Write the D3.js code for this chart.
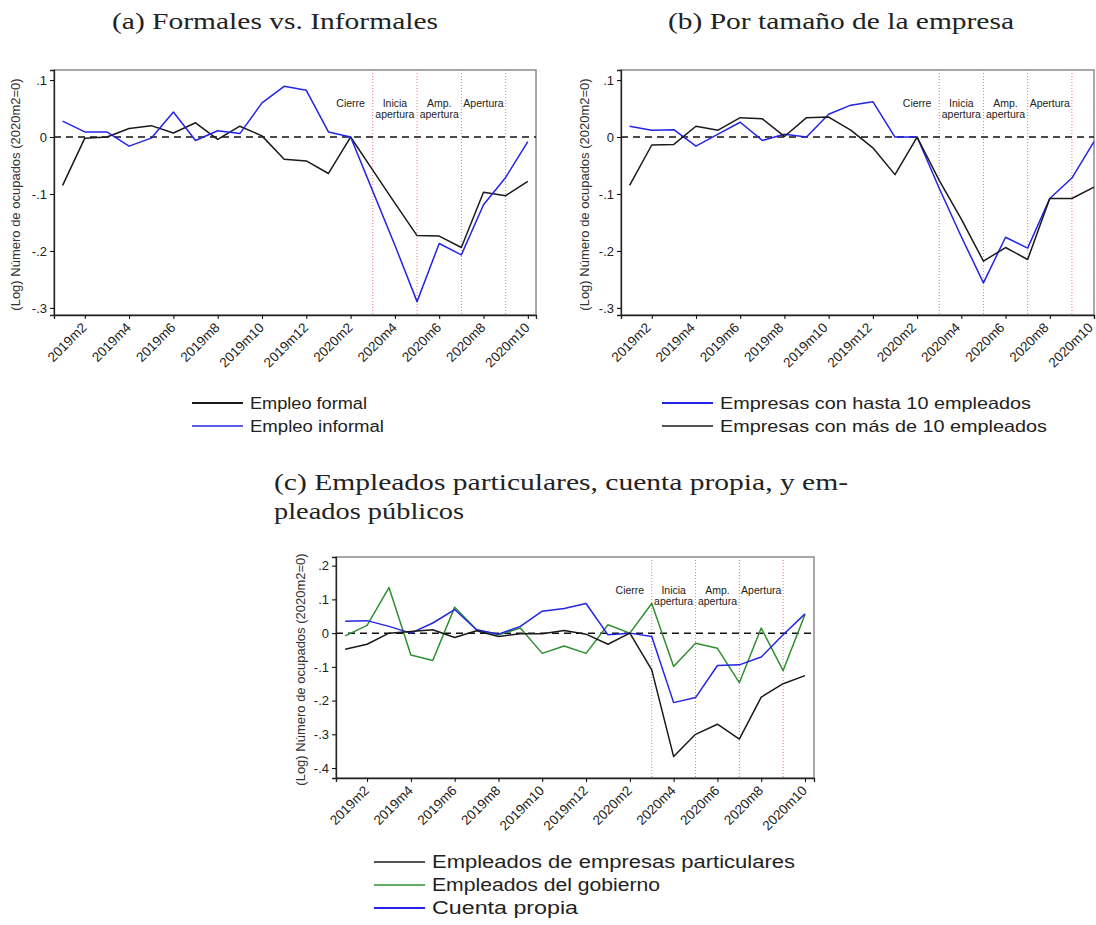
<!DOCTYPE html>
<html>
<head>
<meta charset="utf-8">
<script src="https://cdn.jsdelivr.net/npm/d3@7"></script>
<style>
  body { margin: 0; background: #fff; }
  text { font-family: "Liberation Sans", Arial, sans-serif; }
  .serif { font-family: "Liberation Serif", "Times New Roman", serif; }
</style>
</head>
<body>
<svg width="1096" height="925"></svg>
<script>
// Meses (2019m1 .. 2020m10)
const months = ["2019m1","2019m2","2019m3","2019m4","2019m5","2019m6","2019m7","2019m8","2019m9","2019m10","2019m11","2019m12",
                "2020m1","2020m2","2020m3","2020m4","2020m5","2020m6","2020m7","2020m8","2020m9","2020m10"];
const tickMonths = ["2019m2","2019m4","2019m6","2019m8","2019m10","2019m12","2020m2","2020m4","2020m6","2020m8","2020m10"];

// Lineas verticales y etiquetas de eventos
const eventMonths = ["2020m3","2020m5","2020m7","2020m9"];
const eventLabelMonths = ["2020m2","2020m4","2020m6","2020m8"];
const eventLabels = [["Cierre"], ["Inicia", "apertura"], ["Amp.", "apertura"], ["Apertura"]];

// (a) Formales vs. Informales
const empleoFormal   = [-0.085,-0.002,0.000,0.015,0.020,0.007,0.025,-0.004,0.019,0.002,-0.039,-0.042,-0.064,0,-0.058,-0.116,-0.173,-0.174,-0.194,-0.097,-0.103,-0.078];
const empleoInformal = [0.028,0.009,0.009,-0.016,-0.002,0.044,-0.006,0.011,0.006,0.060,0.089,0.082,0.009,0,-0.095,-0.190,-0.289,-0.187,-0.207,-0.119,-0.071,-0.008];

// (b) Por tamaño de la empresa
const hasta10 = [0.019,0.012,0.013,-0.016,0.005,0.026,-0.006,0.005,0.000,0.040,0.056,0.062,0,0,-0.090,-0.175,-0.256,-0.176,-0.195,-0.108,-0.072,-0.008];
const mas10   = [-0.085,-0.014,-0.013,0.019,0.012,0.034,0.032,0.001,0.034,0.035,0.012,-0.019,-0.066,0,-0.076,-0.144,-0.218,-0.194,-0.215,-0.108,-0.108,-0.088];

// (c) Particulares, cuenta propia, gobierno
const particulares = [-0.048,-0.033,0.000,0.005,0.010,-0.013,0.007,-0.010,-0.002,-0.002,0.008,-0.003,-0.033,0,-0.109,-0.366,-0.300,-0.270,-0.314,-0.190,-0.150,-0.126];
const gobierno     = [-0.008,0.023,0.135,-0.065,-0.081,0.077,0.010,-0.005,0.015,-0.060,-0.038,-0.060,0.025,0,0.088,-0.099,-0.030,-0.045,-0.147,0.015,-0.111,0.055];
const cuentaPropia = [0.035,0.037,0.020,0.000,0.030,0.070,0.010,-0.003,0.020,0.065,0.073,0.088,-0.005,0,-0.010,-0.206,-0.191,-0.096,-0.094,-0.071,-0.005,0.057];

const yTicksAB = [0.1, 0, -0.1, -0.2, -0.3];
const yTicksC  = [0.2, 0.1, 0, -0.1, -0.2, -0.3, -0.4];

const BLACK = "#1a1a1a", BLUE = "#2424e6", GREEN = "#2f8f2f";

const svg = d3.select("svg");

// formato tipo Stata: .1, 0, -.1
const fmt = v => v === 0 ? "0" : (v < 0 ? "-" : "") + Math.abs(v).toFixed(1).replace(/^0/, "");

function drawPanel(o) {
  const x = d3.scaleLinear().domain(o.xDomain).range([o.left, o.right]);
  const y = d3.scaleLinear().domain(o.yDomain).range([o.bottom, o.top]);
  const g = svg.append("g");

  // marco
  g.append("rect")
    .attr("x", o.left).attr("y", o.top)
    .attr("width", o.right - o.left).attr("height", o.bottom - o.top)
    .attr("fill", "none").attr("stroke", "#8c8c8c").attr("stroke-width", 1.5);

  // lineas de eventos (rojas punteadas)
  g.selectAll(".ev").data(eventMonths).enter().append("line")
    .attr("x1", d => x(months.indexOf(d))).attr("x2", d => x(months.indexOf(d)))
    .attr("y1", o.top).attr("y2", o.bottom)
    .attr("stroke", "#e07a7a").attr("stroke-width", 1).attr("stroke-dasharray", "1,2");

  // etiquetas de eventos
  eventLabels.forEach((lines, i) => {
    const t = g.append("text")
      .attr("x", x(months.indexOf(eventLabelMonths[i])))
      .attr("y", o.top + 37)
      .attr("text-anchor", "middle")
      .attr("font-size", 10.5).attr("fill", "#222");
    lines.forEach((s, j) => t.append("tspan")
      .attr("x", x(months.indexOf(eventLabelMonths[i])))
      .attr("dy", j === 0 ? 0 : 10.5).text(s));
  });

  // linea cero
  g.append("line")
    .attr("x1", o.left).attr("x2", o.right)
    .attr("y1", y(0)).attr("y2", y(0))
    .attr("stroke", "#111").attr("stroke-width", 1.5).attr("stroke-dasharray", "7,5");

  // series
  const line = d3.line().x((d, i) => x(i)).y(d => y(d));
  o.series.forEach(s => {
    g.append("path").datum(s.values)
      .attr("d", line)
      .attr("fill", "none").attr("stroke", s.color).attr("stroke-width", s.width || 1.5)
      .attr("stroke-linejoin", "round");
  });

  // ejes
  const yAxis = g.append("g").attr("transform", `translate(${o.left},0)`)
    .call(d3.axisLeft(y).tickValues(o.yTicks).tickSize(4).tickPadding(3).tickFormat(fmt));
  yAxis.select(".domain").attr("stroke", "#222").attr("stroke-width", 1.3);
  yAxis.selectAll("text").attr("font-size", 13).attr("fill", "#222")
    .attr("font-family", "Liberation Sans, Arial, sans-serif");

  const xAxis = g.append("g").attr("transform", `translate(0,${o.bottom})`)
    .call(d3.axisBottom(x).tickValues(tickMonths.map(m => months.indexOf(m))).tickSize(4).tickFormat(i => months[i]));
  xAxis.select(".domain").attr("stroke", "#222").attr("stroke-width", 1.3);
  xAxis.selectAll("text")
    .attr("font-size", 13.5).attr("fill", "#222")
    .attr("font-family", "Liberation Sans, Arial, sans-serif")
    .attr("text-anchor", "end")
    .attr("y", 0).attr("dy", "0.35em")
    .attr("transform", `translate(${o.labShift || -1},10) rotate(-45)`);

  // titulo eje Y
  g.append("text")
    .attr("transform", `translate(${o.ylabX},${(o.top + o.bottom) / 2 + 2}) rotate(-90)`)
    .attr("text-anchor", "middle").attr("font-size", 13).attr("fill", "#333")
    .text("(Log) Número de ocupados (2020m2=0)");
}

drawPanel({
  left: 54, right: 536, top: 70, bottom: 315,
  xDomain: [-0.39, 21.37], yDomain: [-0.3125, 0.1177], yTicks: yTicksAB, ylabX: 20,
  series: [
    { values: empleoFormal, color: BLACK },
    { values: empleoInformal, color: BLUE }
  ]
});

drawPanel({
  left: 621, right: 1094, top: 70, bottom: 315,
  xDomain: [-0.39, 21.0], yDomain: [-0.3125, 0.1177], yTicks: yTicksAB, ylabX: 589,
  labShift: -4,
  series: [
    { values: hasta10, color: BLUE },
    { values: mas10, color: BLACK }
  ]
});

drawPanel({
  left: 336, right: 814, top: 557, bottom: 778,
  xDomain: [-0.42, 21.41], yDomain: [-0.4295, 0.2257], yTicks: yTicksC, ylabX: 305,
  series: [
    { values: gobierno, color: GREEN },
    { values: cuentaPropia, color: BLUE },
    { values: particulares, color: BLACK }
  ]
});

// ajustar el ancho del texto (la figura original esta algo ensanchada)
function fitWidth(sel, w) {
  sel.attr("textLength", w).attr("lengthAdjust", "spacingAndGlyphs");
}

// titulos
const titles = [
  { x: 275, y: 29, anchor: "middle", text: "(a) Formales vs. Informales", w: 326 },
  { x: 841, y: 29, anchor: "middle", text: "(b) Por tamaño de la empresa", w: 346 },
  { x: 274, y: 490, anchor: "start", text: "(c) Empleados particulares, cuenta propia, y em-", w: 574 },
  { x: 274, y: 519, anchor: "start", text: "pleados públicos", w: 190 }
];
titles.forEach(d => {
  const t = svg.append("text").attr("class", "serif")
    .attr("x", d.x).attr("y", d.y)
    .attr("text-anchor", d.anchor)
    .attr("font-size", 24).attr("fill", "#222")
    .text(d.text);
  fitWidth(t, d.w);
});

// leyendas
function legend(x, y, size, items) {
  items.forEach((it, i) => {
    const yy = y + i * 23;
    svg.append("line").attr("x1", x).attr("x2", x + 51).attr("y1", yy).attr("y2", yy)
      .attr("stroke", it.color).attr("stroke-width", it.width);
    const t = svg.append("text").attr("x", x + 58).attr("y", yy + size * 0.36)
      .attr("font-size", size).attr("fill", "#222").text(it.label);
    fitWidth(t, it.w);
  });
}
legend(192, 403, 16, [
  { label: "Empleo formal", color: BLACK, width: 2, w: 117 },
  { label: "Empleo informal", color: BLUE, width: 1.3, w: 134 }
]);
legend(662, 403, 16.5, [
  { label: "Empresas con hasta 10 empleados", color: BLUE, width: 2, w: 311 },
  { label: "Empresas con más de 10 empleados", color: BLACK, width: 1.3, w: 327 }
]);
legend(374, 862, 17.5, [
  { label: "Empleados de empresas particulares", color: BLACK, width: 1.3, w: 363 },
  { label: "Empleados del gobierno", color: GREEN, width: 1.3, w: 228 },
  { label: "Cuenta propia", color: BLUE, width: 2, w: 146 }
]);
</script>
</body>
</html>
